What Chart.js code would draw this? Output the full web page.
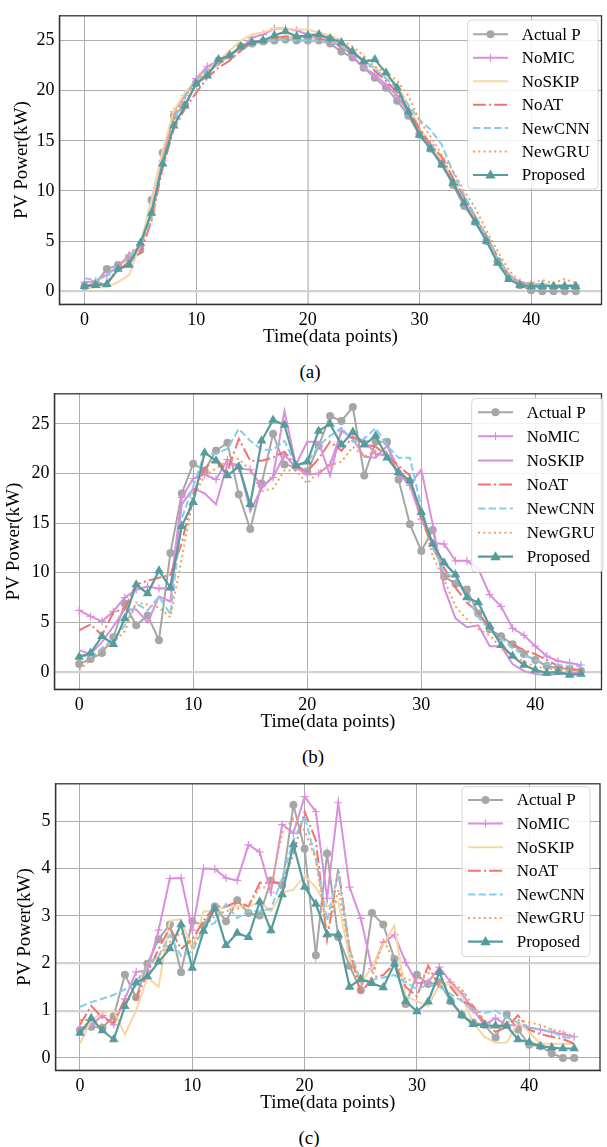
<!DOCTYPE html>
<html lang="en">
<head>
<meta charset="UTF-8">
<title>PV Power forecasts</title>
<script src="https://cdn.jsdelivr.net/npm/chart.js"></script>
<style>
  body { margin: 0; background: #fff; width: 607px; height: 1147px; position: relative; overflow: hidden;
         font-family: "Liberation Serif", "Times New Roman", serif; }
  canvas { position: absolute; left: 0; }
  .cap { position: absolute; font-size: 19px; transform: translate(-50%, -50%); color: #000; }
</style>
</head>
<body>

<canvas id="chartA" width="607" height="354" style="top:0px"></canvas>
<div class="cap" style="left:310px; top:372px">(a)</div>

<canvas id="chartB" width="607" height="361" style="top:378px"></canvas>
<div class="cap" style="left:313px; top:757px">(b)</div>

<canvas id="chartC" width="607" height="352" style="top:768px"></canvas>
<div class="cap" style="left:309px; top:1138px">(c)</div>

<script>
// time index (data points)
const xs = [0,1,2,3,4,5,6,7,8,9,
            10,11,12,13,14,15,16,17,18,19,
            20,21,22,23,24,25,26,27,28,29,
            30,31,32,33,34,35,36,37,38,39,
            40,41,42,43,44];
const xTicks = [0, 10, 20, 30, 40];
const seriesNames = ['Actual P', 'NoMIC', 'NoSKIP', 'NoAT', 'NewCNN', 'NewGRU', 'Proposed'];

// ---- panel (a) ----
const aActual = [0.5,0.8,2.2,2.6,3.3,4.1,9.1,13.8,17.5,18.6,
                 20.8,21.8,23.0,23.5,24.4,24.7,24.9,25.0,25.1,25.0,
                 25.0,25.0,24.7,23.9,23.3,22.3,21.3,20.3,19.0,17.5,
                 15.6,14.2,12.7,10.6,8.5,6.9,5.0,3.0,1.3,0.6,
                 0.1,0,0,0,0];
const aNoMIC = [0.9,1.0,1.6,2.5,3.6,4.5,8.0,13.0,17.9,19.5,
                21.2,22.4,23.0,23.6,24.2,25.3,25.6,26.2,26.2,26.0,
                25.6,25.6,25.0,24.5,23.5,22.3,21.6,20.6,19.5,17.8,
                15.8,14.6,13.0,10.9,8.7,6.9,5.1,3.0,1.5,0.9,
                0.7,0.7,0.6,0.6,0.6];
const aNoSKIP = [0.3,0.4,0.4,0.9,1.6,4.7,9.0,14.0,18.0,19.8,
                 21.0,22.0,23.0,24.0,25.0,25.6,25.8,26.2,26.2,26.1,
                 26.1,25.8,25.5,24.9,24.0,23.0,22.3,21.3,20.6,18.5,
                 16.3,14.6,13.1,11.2,9.2,7.3,5.5,3.1,1.3,0.7,
                 0.6,0.6,0.6,0.6,0.6];
const aNoAT = [0.4,0.7,0.9,2.0,3.0,3.8,7.0,12.3,16.2,18.2,
               19.8,21.3,22.3,23.0,24.0,24.8,25.0,25.3,25.4,25.4,
               25.4,25.2,24.9,24.3,23.8,23.0,22.0,21.0,19.8,18.1,
               16.2,14.6,13.4,11.3,9.4,7.4,5.5,3.4,1.6,0.8,
               0.5,0.4,0.4,0.4,0.3];
const aNewCNN = [1.3,1.1,1.6,2.5,3.5,4.5,7.3,13.0,17.0,19.5,
                 21.1,22.0,22.6,23.6,24.3,24.8,25.0,25.0,25.1,25.0,
                 25.0,24.9,24.9,24.4,23.8,23.0,22.2,21.2,20.2,18.6,
                 17.1,16.1,14.6,11.9,9.6,7.5,5.5,3.3,1.6,0.9,
                 0.7,0.6,0.6,0.6,0.6];
const aNewGRU = [0.7,0.6,0.9,2.2,3.8,4.6,7.0,13.0,17.5,19.3,
                 21.0,21.9,22.6,23.4,24.3,24.8,25.0,25.2,25.3,25.3,
                 25.4,25.4,25.4,25.0,24.4,23.5,22.4,21.8,21.0,19.5,
                 17.0,15.4,13.6,12.0,10.0,8.3,6.0,4.0,2.1,0.9,
                 0.8,1.1,0.8,1.2,0.8];
const aProposed = [0.5,0.6,0.7,2.2,2.6,4.8,7.8,12.7,16.5,18.5,
                   20.7,21.5,23.1,23.5,24.4,24.8,25.0,25.5,25.9,25.4,
                   25.5,25.6,25.2,24.8,23.9,22.9,23.1,21.8,20.3,17.9,
                   15.6,14.2,12.6,10.8,8.8,6.9,5.0,2.8,1.2,0.6,
                   0.5,0.5,0.5,0.5,0.5];
const aYTicks = [0, 5, 10, 15, 20, 25];

// ---- panel (b) ----
const bActual = [0.8,1.3,1.9,3.5,6.9,4.7,5.7,3.2,12.0,18.0,
                 21.0,20.3,22.3,23.1,17.9,14.4,19.0,24.0,20.9,20.7,
                 20.2,22.8,25.8,25.3,26.7,19.8,23.2,23.2,19.4,14.9,
                 12.2,14.3,9.6,8.9,8.3,5.9,4.3,3.6,2.8,1.8,
                 1.2,0.6,0.4,0.3,0.1];
const bNoMIC = [6.2,5.6,5.1,6.1,7.5,8.3,8.6,8.4,8.5,17.6,
                19.5,19.9,19.4,21.4,20.5,20.4,18.7,19.6,21.9,20.6,
                19.9,20.0,20.9,24.3,23.6,23.3,22.0,21.8,20.0,18.8,
                15.4,13.0,12.9,11.2,11.2,10.4,7.8,6.6,4.4,3.7,
                2.6,1.6,1.1,0.9,0.7];
const bNoSKIP = [2.2,1.8,3.0,4.6,6.3,6.3,5.0,7.6,7.1,16.9,
                 18.5,18.0,16.9,21.0,20.9,16.2,18.5,19.7,26.3,20.9,
                 23.2,23.2,19.8,24.4,23.5,21.7,21.6,22.8,20.5,18.9,
                 20.4,14.9,8.5,5.4,4.5,4.7,2.6,2.6,0.8,0.1,
                 -0.2,-0.3,-0.2,-0.1,-0.1];
const bNoAT = [4.2,4.8,3.7,6.0,6.4,8.8,9.2,9.5,9.8,13.0,
               18.0,20.5,21.5,20.2,23.5,21.3,21.3,21.6,22.2,20.8,
               20.2,21.5,23.2,22.3,23.7,23.0,22.7,21.8,20.8,19.8,
               15.5,12.5,10.5,8.5,7.0,6.0,4.4,3.4,2.8,2.2,
               1.8,1.2,0.6,0.3,0.2];
const bNewCNN = [1.7,1.5,2.4,3.3,4.7,6.9,6.2,7.6,5.8,15.5,
                 18.7,22.0,22.0,22.5,24.5,23.3,22.4,22.4,23.3,20.8,
                 21.1,22.8,23.8,24.6,23.2,23.5,24.6,22.8,21.6,21.6,
                 16.6,12.7,10.0,9.5,7.6,5.5,4.2,3.4,2.4,1.7,
                 1.2,0.8,0.7,0.6,0.6];
const bNewGRU = [0.2,1.2,2.2,3.0,4.1,7.0,6.8,6.5,5.5,11.5,
                 17.5,19.8,20.5,21.3,21.5,20.3,18.2,18.5,20.3,20.3,
                 19.0,20.2,20.8,21.2,22.7,21.7,22.3,22.2,20.1,19.5,
                 16.0,11.7,9.3,6.6,5.3,4.3,3.7,2.4,1.6,1.1,
                 0.5,0.4,0.2,0.2,0.1];
const bProposed = [1.5,1.9,3.6,2.8,5.4,8.8,7.9,10.2,8.5,14.7,
                   17.1,22.1,21.3,19.8,20.7,16.9,23.3,25.4,24.9,20.8,
                   21.2,24.3,25.0,22.9,24.2,22.9,23.8,21.6,20.1,19.3,
                   16.1,12.9,11.0,9.8,7.5,7.0,4.6,2.7,1.6,0.7,
                   0.2,-0.1,0.0,-0.3,-0.2];
const bYTicks = [0, 5, 10, 15, 20, 25];

// ---- panel (c) ----
const cActual = [0.59,0.66,0.64,0.88,1.76,1.28,1.99,2.51,2.82,1.81,
                 2.89,2.8,3.2,2.89,3.33,3.06,3.01,3.75,3.65,5.34,
                 4.42,2.17,4.32,2.55,1.95,1.43,3.06,2.82,2.09,1.14,
                 1.76,1.56,1.6,1.2,0.9,0.75,0.7,0.43,0.92,0.6,
                 0.28,0.25,0.1,0.0,0.0];
const cNoMIC = [0.62,0.7,0.9,0.7,1.25,1.82,1.85,2.7,3.79,3.8,
                2.7,4.0,3.99,3.8,3.75,4.5,4.35,3.5,4.93,4.75,
                5.52,5.2,3.37,5.39,3.61,2.95,1.88,2.44,2.6,2.02,
                1.58,1.6,1.92,1.6,1.36,1.02,0.7,0.84,0.69,0.69,
                0.64,0.6,0.55,0.5,0.45];
const cNoSKIP = [0.3,0.8,0.95,1.0,0.5,1.0,1.7,1.5,2.9,2.93,
                 2.3,3.1,3.1,3.2,3.2,3.2,3.3,3.1,3.5,3.55,
                 3.85,3.6,3.2,3.3,2.1,1.6,1.9,2.4,2.8,1.3,
                 1.2,1.1,1.55,1.55,1.3,0.75,0.45,0.32,0.32,0.75,
                 0.55,0.3,0.3,0.3,0.3];
const cNoAT = [0.7,1.1,0.85,0.75,1.25,1.25,1.8,2.3,2.75,2.3,
               2.5,2.9,3.2,3.2,3.3,3.2,3.7,3.7,3.7,4.3,
               5.2,4.6,2.5,4.0,2.3,1.35,1.7,1.75,2.0,1.5,
               1.3,1.95,1.5,1.5,1.2,1.1,0.75,0.55,0.65,0.9,
               0.6,0.5,0.45,0.4,0.3];
const cNewCNN = [1.08,1.18,1.25,1.33,1.45,1.6,1.95,2.15,2.6,2.15,
                 2.25,2.75,2.85,3.25,2.95,3.1,3.1,3.15,3.8,4.6,
                 5.1,4.2,2.9,3.9,2.3,1.6,1.65,1.7,1.75,1.6,
                 1.45,1.55,1.5,1.35,1.2,1.0,0.95,1.0,0.85,0.75,
                 0.65,0.6,0.55,0.45,0.4];
const cNewGRU = [0.8,0.8,0.7,0.8,1.15,1.55,2.0,2.15,2.45,2.65,
                 2.35,2.75,3.0,3.1,3.15,3.2,3.6,3.6,4.75,5.05,
                 4.8,4.2,2.6,3.55,2.3,1.55,1.7,2.5,2.05,1.65,
                 1.65,1.8,1.55,1.6,1.45,1.1,0.8,0.65,0.75,0.8,
                 0.75,0.7,0.6,0.55,0.45];
const cProposed = [0.53,0.84,0.58,0.39,1.09,1.59,1.72,2.03,2.31,2.82,
                   1.9,2.68,3.16,2.38,2.64,2.55,3.3,2.69,3.45,4.51,
                   3.61,3.25,2.61,2.6,1.5,1.67,1.58,1.49,1.99,1.2,
                   0.98,1.19,1.81,1.21,0.91,0.71,0.69,0.68,0.68,0.39,
                   0.33,0.25,0.22,0.2,0.2];
const cYTicks = [0, 1, 2, 3, 4, 5];

// line looks, same order as seriesNames
const looks = [
  { color: '#a6a6a6', width: 2,   dash: [],               point: 'circle',   radius: 4 },
  { color: '#da8fdc', width: 2,   dash: [],               point: 'cross',    radius: 4 },
  { color: '#f6d6a2', width: 2,   dash: [],               point: null,       radius: 0 },
  { color: '#ef7470', width: 2,   dash: [12.8, 3.2, 2, 3.2], point: null,    radius: 0 },
  { color: '#85cdea', width: 2,   dash: [7.4, 3.2],       point: null,       radius: 0 },
  { color: '#f89d55', width: 2,   dash: [2, 3.3],         point: null,       radius: 0 },
  { color: '#579c9d', width: 2.2, dash: [],               point: 'triangle', radius: 5.5 }
];

const SERIF = '"Liberation Serif", "Times New Roman", serif';

function drawMarker(ctx, kind, x, y, r, color) {
  ctx.save();
  ctx.setLineDash([]);
  ctx.fillStyle = color;
  ctx.strokeStyle = color;
  if (kind === 'circle') {
    ctx.beginPath(); ctx.arc(x, y, r, 0, Math.PI * 2); ctx.fill();
  } else if (kind === 'cross') {
    ctx.lineWidth = 1.2;
    ctx.beginPath();
    ctx.moveTo(x - r, y); ctx.lineTo(x + r, y);
    ctx.moveTo(x, y - r); ctx.lineTo(x, y + r);
    ctx.stroke();
  } else if (kind === 'triangle') {
    ctx.beginPath();
    ctx.moveTo(x, y - r);
    ctx.lineTo(x + r * 0.95, y + r * 0.65);
    ctx.lineTo(x - r * 0.95, y + r * 0.65);
    ctx.closePath(); ctx.fill();
  }
  ctx.restore();
}

// frame on all four sides + matplotlib style legend box
const framePlugin = {
  id: 'frame',
  afterDraw(chart, args, opts) {
    const ctx = chart.ctx;
    const a = chart.chartArea;
    ctx.save();
    ctx.strokeStyle = '#333';
    ctx.lineWidth = 1.3;
    ctx.strokeRect(a.left, a.top, a.right - a.left, a.bottom - a.top);

    const L = opts.legend;
    ctx.beginPath();
    ctx.roundRect(L.x, L.y, L.w, L.h, 4);
    ctx.fillStyle = 'rgba(255,255,255,0.85)';
    ctx.fill();
    ctx.strokeStyle = '#d6d6d6';
    ctx.lineWidth = 1;
    ctx.stroke();

    chart.data.datasets.forEach((ds, i) => {
      const y = L.row0 + i * L.dy;
      ctx.save();
      ctx.strokeStyle = ds.borderColor;
      ctx.lineWidth = ds.borderWidth;
      ctx.setLineDash(ds.borderDash || []);
      ctx.beginPath();
      ctx.moveTo(L.x0, y); ctx.lineTo(L.x1, y);
      ctx.stroke();
      ctx.restore();
      const lk = looks[i];
      if (lk.point) drawMarker(ctx, lk.point, (L.x0 + L.x1) / 2, y, lk.radius, ds.borderColor);
      ctx.fillStyle = '#000';
      ctx.font = '17px ' + SERIF;
      ctx.textBaseline = 'middle';
      ctx.textAlign = 'left';
      ctx.fillText(ds.label, L.tx, y + 1);
    });
    ctx.restore();
  }
};

function makePanel(id, vals, yTicks, g) {
  const canvas = document.getElementById(id);
  const H = canvas.height;
  const datasets = seriesNames.map((name, i) => {
    const lk = looks[i];
    const color = (i === 2 && g.skipColor) ? g.skipColor : lk.color;
    return {
      label: name,
      data: xs.map((x, k) => ({ x: x, y: vals[i][k] })),
      borderColor: color,
      backgroundColor: color,
      borderWidth: lk.width,
      borderDash: lk.dash,
      pointStyle: lk.point || 'circle',
      pointRadius: lk.point ? lk.radius : 0,
      pointBorderWidth: lk.point === 'cross' ? 1.2 : 0,
      pointHoverRadius: 0,
      tension: 0,
      order: seriesNames.length - 1 - i
    };
  });

  const soft = (list) => (c) => (c.tick && list.indexOf(c.tick.value) >= 0) ? '#d2d2d2' : '#adadad';
  const softW = (list) => (c) => (c.tick && list.indexOf(c.tick.value) >= 0) ? 2.2 : 1;

  new Chart(canvas.getContext('2d'), {
    type: 'line',
    data: { datasets: datasets },
    plugins: [framePlugin],
    options: {
      responsive: false,
      animation: false,
      events: [],
      layout: { padding: { top: g.top, right: 607 - g.right, left: 0, bottom: 0 } },
      plugins: {
        legend: { display: false },
        tooltip: { enabled: false },
        frame: { legend: g.legend }
      },
      scales: {
        x: {
          type: 'linear',
          min: g.xmin, max: g.xmax,
          afterBuildTicks: s => { s.ticks = xTicks.map(v => ({ value: v })); },
          afterFit: s => { s.height = H - g.bottom; },
          grid: { color: soft(g.softX), lineWidth: softW(g.softX), drawTicks: false },
          border: { color: '#333', width: 1.3 },
          ticks: { font: { family: SERIF, size: 18 }, color: '#000', padding: 5, maxRotation: 0, autoSkip: false },
          title: { display: true, text: 'Time(data points)', color: '#000',
                   font: { family: SERIF, size: 19 }, padding: { top: 0, bottom: 5.6 } }
        },
        y: {
          min: g.ymin, max: g.ymax,
          afterBuildTicks: s => { s.ticks = yTicks.map(v => ({ value: v })); },
          afterFit: s => { s.width = g.left; },
          grid: { color: soft(g.softY), lineWidth: softW(g.softY), drawTicks: false },
          border: { color: '#333', width: 1.3 },
          ticks: { font: { family: SERIF, size: 18 }, color: '#000', padding: 5 },
          title: { display: true, text: 'PV Power(kW)', color: '#000',
                   font: { family: SERIF, size: 19 }, padding: { top: g.ytitle, bottom: 0 } }
        }
      }
    }
  });
}

makePanel('chartA',
  [aActual, aNoMIC, aNoSKIP, aNoAT, aNewCNN, aNewGRU, aProposed], aYTicks,
  { top: 12.7, bottom: 304.3, left: 59.4, right: 604.7,
    xmin: -2.25, xmax: 46.3, ymin: -1.31, ymax: 27.47, ytitle: 10.6,
    softX: [20], softY: [0],
    legend: { x: 467.7, y: 20, w: 130.3, h: 169, row0: 34.3, dy: 23.45, x0: 473, x1: 508, tx: 521.7 } });

makePanel('chartB',
  [bActual, bNoMIC, bNoSKIP, bNoAT, bNewCNN, bNewGRU, bProposed], bYTicks,
  { top: 11.3, bottom: 311.3, left: 54.4, right: 606,
    xmin: -2.17, xmax: 45.8, ymin: -1.75, ymax: 28.04, ytitle: 2.6,
    softX: [], softY: [0], skipColor: '#da8fdc',
    legend: { x: 471.7, y: 20.3, w: 131.3, h: 173.7, row0: 34.3, dy: 24.07, x0: 478, x1: 513, tx: 526.7 } });

makePanel('chartC',
  [cActual, cNoMIC, cNoSKIP, cNoAT, cNewCNN, cNewGRU, cProposed], cYTicks,
  { top: 10.3, bottom: 302.3, left: 55.5, right: 600,
    xmin: -2.18, xmax: 46.3, ymin: -0.26, ymax: 5.79, ytitle: 13.6,
    softX: [], softY: [1, 2],
    legend: { x: 462, y: 18.7, w: 128, h: 170, row0: 32, dy: 23.6, x0: 468, x1: 503, tx: 516.7 } });
</script>
</body>
</html>
